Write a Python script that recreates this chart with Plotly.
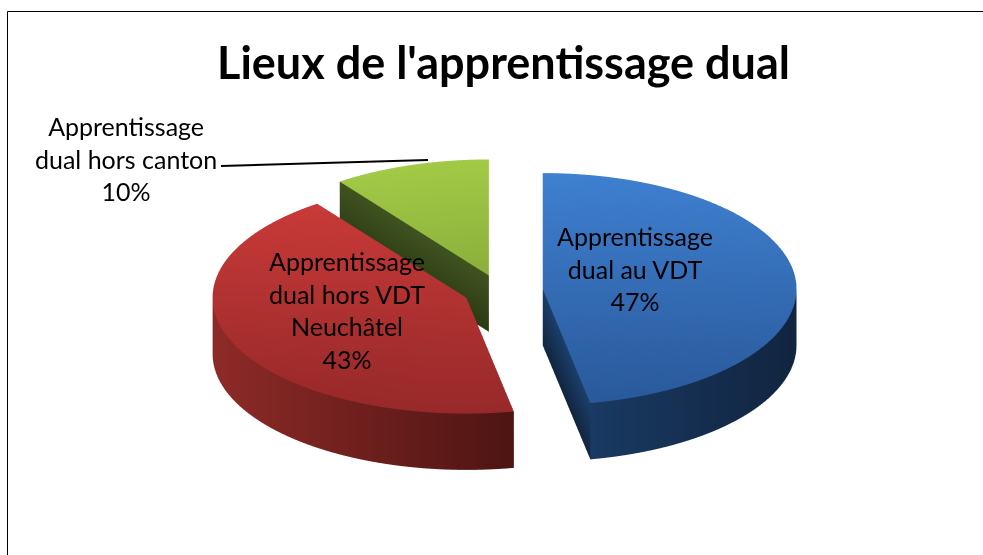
import math
import plotly.graph_objects as go

title = "Lieux de l'apprentissage dual"
categories = ["Apprentissage<br>dual au VDT", "Apprentissage<br>dual hors VDT<br>Neuchâtel", "Apprentissage<br>dual hors canton"]
values = [47, 43, 10]
explode = [0.17, 0.144, 0.14]
top_cols = [("#3f80d0", "#29599a"), ("#cf3d3a", "#98292a"), ("#a2ca46", "#6e8e2e")]
wall_cols = [("#1c3f6c", "#11253f"), ("#8e2b28", "#4e1513"), ("#3f5320", "#2c3a14")]
label_pos = [(635, 268), (347, 310), (126, 158)]

H = 0.25
N = 90


def rgb(h):
    return tuple(int(h[i:i + 2], 16) for i in (1, 3, 5))


def mix(a, b, t):
    t = max(0, min(1, t))
    a, b = rgb(a), rgb(b)
    return "rgb(%d,%d,%d)" % tuple(a[i] + (b[i] - a[i]) * t for i in range(3))


fig = go.Figure()
total = sum(values)
start = 0.0
for val, ex, tc, wc in zip(values, explode, top_cols, wall_cols):
    a0 = start
    a1 = start + val / total * 2 * math.pi
    start = a1
    mid = (a0 + a1) / 2
    ox, oy = ex * math.sin(mid), ex * math.cos(mid)
    ang = [a0 + (a1 - a0) * i / N for i in range(N + 1)]
    rim = [(ox + math.sin(a), oy + math.cos(a)) for a in ang]
    xs = [p[0] for p in rim]
    xlo, xhi = min(xs), max(xs)
    X, Y, Z, C, I, J, K = [], [], [], [], [], [], []

    def add(x, y, z, c):
        X.append(x); Y.append(y); Z.append(z); C.append(c)
        return len(X) - 1

    c0 = add(ox, oy, 0, mix(*tc, (1 - oy) / 2))
    ids = [add(x, y, 0, mix(*tc, (1 - y) / 2)) for x, y in rim]
    for i in range(N):
        I.append(c0); J.append(ids[i]); K.append(ids[i + 1])
    up = [add(x, y, 0, mix(*wc, (x - xlo) / (xhi - xlo))) for x, y in rim]
    dn = [add(x, y, -H, mix(*wc, (x - xlo) / (xhi - xlo))) for x, y in rim]
    for i in range(N):
        I += [up[i], up[i + 1]]; J += [dn[i], dn[i]]; K += [up[i + 1], dn[i + 1]]
    for (x, y) in (rim[0], rim[-1]):
        p = add(ox, oy, 0, wc[0]); q = add(x, y, 0, wc[0])
        r = add(x, y, -H, wc[1]); s = add(ox, oy, -H, wc[1])
        I += [p, p]; J += [q, r]; K += [r, s]
    fig.add_trace(go.Mesh3d(x=X, y=Y, z=Z, i=I, j=J, k=K, vertexcolor=C,
                            lighting=dict(ambient=1, diffuse=0, specular=0, roughness=1, fresnel=0),
                            flatshading=True, hoverinfo="skip", showscale=False))

ax = dict(visible=False, showgrid=False, zeroline=False, showbackground=False)
W, Ht = 983, 555
fig.update_layout(
    width=W, height=Ht, margin=dict(l=0, r=0, t=0, b=0),
    paper_bgcolor="white", showlegend=False,
    scene=dict(
        domain=dict(x=[0, 1], y=[0, 1]),
        xaxis=dict(ax, range=[-1.4, 1.4]), yaxis=dict(ax, range=[-1.4, 1.4]), zaxis=dict(ax, range=[-0.6, 0.2]),
        aspectmode="manual", aspectratio=dict(x=2.56, y=2.56, z=0.73),
        camera=dict(eye=dict(x=-0.03, y=-2.8, z=1.677), center=dict(x=-0.03, y=0, z=0.237), up=dict(x=0, y=0, z=1),
                    projection=dict(type="orthographic")),
        bgcolor="rgba(0,0,0,0)",
    ),
    shapes=[
        dict(type="rect", xref="paper", yref="paper", x0=7.5 / W, x1=1.01, y0=-0.01, y1=1 - 11.5 / Ht,
             line=dict(color="black", width=1)),
        dict(type="line", xref="paper", yref="paper", x0=221 / W, x1=428 / W, y0=1 - 166 / Ht, y1=1 - 160 / Ht,
             line=dict(color="black", width=2)),
    ],
)
fig.add_annotation(x=503 / W, y=1 - 62 / Ht, xref="paper", yref="paper", text="<b>%s</b>" % title, showarrow=False,
                   xanchor="center", yanchor="middle", font=dict(family="Lato", size=45, color="black"))
for cat, val, (lx, ly) in zip(categories, values, label_pos):
    fig.add_annotation(x=lx / W, y=1 - ly / Ht, xref="paper", yref="paper", text="%s<br>%d%%" % (cat, val),
                       showarrow=False, align="center", xanchor="center", yanchor="middle",
                       font=dict(family="Lato", size=25, color="black"))
fig.write_html("out.html", config=dict(displayModeBar=False), post_script="document.body.style.margin='0';")
